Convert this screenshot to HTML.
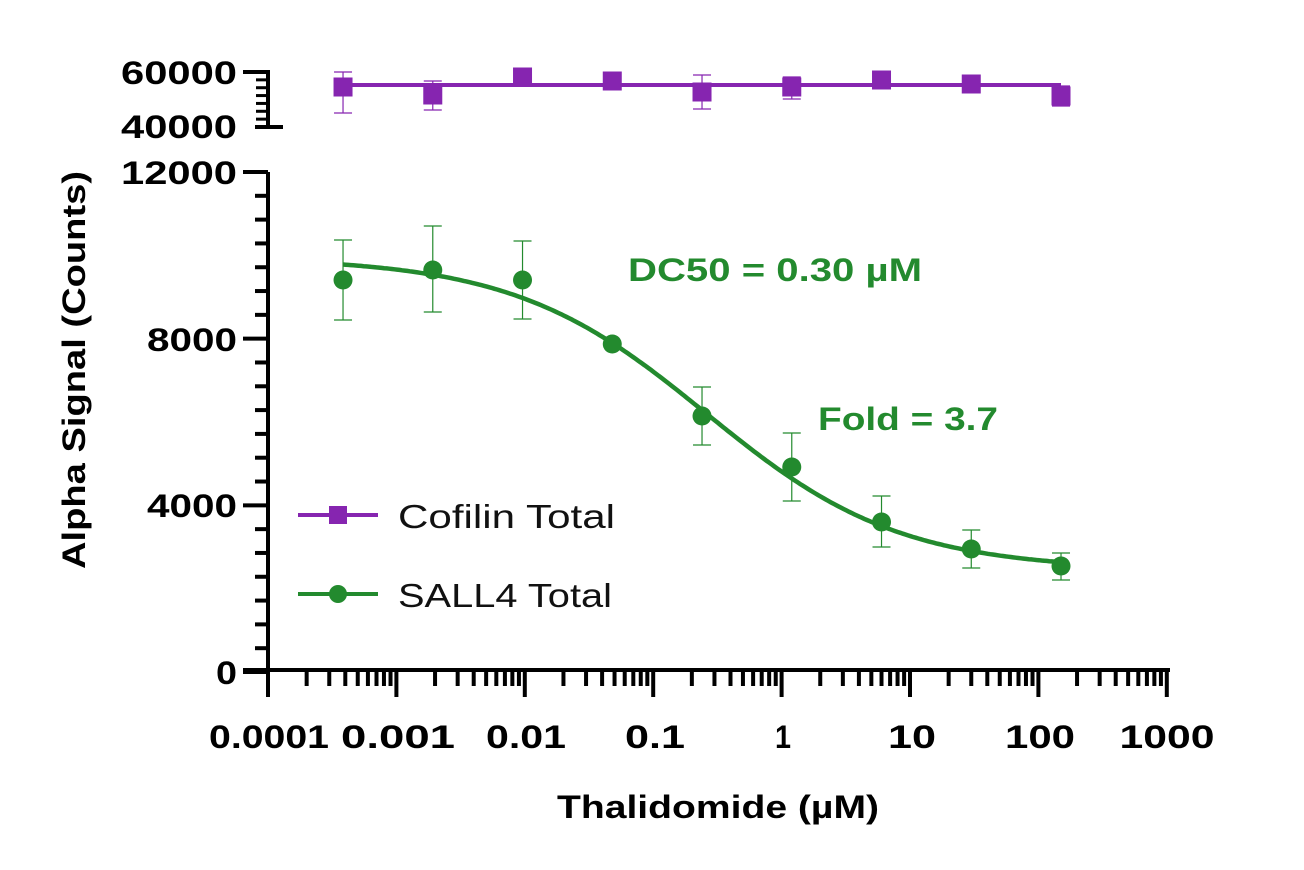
<!DOCTYPE html>
<html><head><meta charset="utf-8"><style>
body{margin:0;background:#fff}
svg{display:block}
text{font-family:"Liberation Sans",sans-serif}
</style></head><body>
<svg id="s" width="1304" height="870" xmlns="http://www.w3.org/2000/svg">
<g font-weight="bold" font-size="32" fill="#000" text-anchor="end">
<text x="237" y="84" textLength="116" lengthAdjust="spacingAndGlyphs">60000</text>
<text x="237" y="138" textLength="116" lengthAdjust="spacingAndGlyphs">40000</text>
<text x="237" y="184" textLength="116" lengthAdjust="spacingAndGlyphs">12000</text>
<text x="237" y="351" textLength="90" lengthAdjust="spacingAndGlyphs">8000</text>
<text x="237" y="517" textLength="90" lengthAdjust="spacingAndGlyphs">4000</text>
<text x="237" y="684" textLength="21" lengthAdjust="spacingAndGlyphs">0</text>
</g>
<g font-weight="bold" font-size="32" fill="#000" text-anchor="middle">
<text x="269" y="748" textLength="120" lengthAdjust="spacingAndGlyphs">0.0001</text>
<text x="398" y="748" textLength="114" lengthAdjust="spacingAndGlyphs">0.001</text>
<text x="526" y="748" textLength="80" lengthAdjust="spacingAndGlyphs">0.01</text>
<text x="655" y="748" textLength="60" lengthAdjust="spacingAndGlyphs">0.1</text>
<text x="783" y="748" textLength="16" lengthAdjust="spacingAndGlyphs">1</text>
<text x="912" y="748" textLength="48" lengthAdjust="spacingAndGlyphs">10</text>
<text x="1040" y="748" textLength="70" lengthAdjust="spacingAndGlyphs">100</text>
<text x="1167" y="748" textLength="95" lengthAdjust="spacingAndGlyphs">1000</text>
<text x="718" y="818" textLength="322" lengthAdjust="spacingAndGlyphs">Thalidomide (µM)</text>
<text transform="translate(85,370) rotate(-90)" textLength="398" lengthAdjust="spacingAndGlyphs">Alpha Signal (Counts)</text>
</g>
<g font-weight="bold" font-size="32" fill="#238a2e">
<text x="628" y="281" textLength="294" lengthAdjust="spacingAndGlyphs">DC50 = 0.30 µM</text>
<text x="818" y="430" textLength="180" lengthAdjust="spacingAndGlyphs">Fold = 3.7</text>
</g>
<g font-size="33" fill="#111">
<text x="398" y="528" textLength="217" lengthAdjust="spacingAndGlyphs">Cofilin Total</text>
<text x="398" y="607" textLength="214" lengthAdjust="spacingAndGlyphs">SALL4 Total</text>
</g>
<line x1="298" y1="515" x2="378" y2="515" stroke="#8625b0" stroke-width="4"/>
<rect x="329" y="506" width="18" height="18" fill="#8625b0"/>
<line x1="298" y1="594" x2="378" y2="594" stroke="#238a2e" stroke-width="4"/>
<circle cx="338" cy="594" r="9" fill="#238a2e"/>
<g id="ax" stroke="#000" fill="none"></g>
<g id="dat"></g>
</svg>
<script>
var ns="http://www.w3.org/2000/svg";
function el(p,t,a){var e=document.createElementNS(ns,t);for(var k in a)e.setAttribute(k,a[k]);p.appendChild(e);return e;}
var ax=document.getElementById('ax'),dat=document.getElementById('dat');
el(ax,'line',{x1:243,y1:670,x2:1170,y2:670,'stroke-width':4});
el(ax,'line',{x1:268,y1:172,x2:268,y2:672,'stroke-width':4});
el(ax,'line',{x1:268,y1:72,x2:268,y2:129,'stroke-width':4});
el(ax,'line',{x1:243,y1:72,x2:270,y2:72,'stroke-width':4});
el(ax,'line',{x1:255,y1:127,x2:283,y2:127,'stroke-width':4});
for(var i=1;i<7;i++){var y=72+i*55/7;el(ax,'line',{x1:256,y1:y,x2:268,y2:y,'stroke-width':3});}
for(var i=0;i<=21;i++){var y=172+i*500/21;el(ax,'line',{x1:(i%7==0)?243:255,y1:y,x2:268,y2:y,'stroke-width':4});}
var X0=268,D=128.4;
for(var d=0;d<7;d++){for(var m=1;m<=10;m++){var x=X0+(d+Math.log10(m))*D;if(m==1&&d>0)continue;el(ax,'line',{x1:x,y1:670,x2:x,y2:(m==1||m==10)?697:686,'stroke-width':4});}}
function px(c){return X0+(Math.log10(c)+4)*D;}
var conc=[];for(var k=8;k>=0;k--)conc.push(150/Math.pow(5,k));
var pts=[];for(var lx=Math.log10(conc[0]);lx<=Math.log10(150)+0.001;lx+=0.02){var c=Math.pow(10,lx);var v=2450+7500/(1+Math.pow(c/0.26,0.577));pts.push(px(c).toFixed(1)+','+(672-v/24).toFixed(1));}
el(dat,'polyline',{points:pts.join(' '),fill:'none',stroke:'#238a2e','stroke-width':4.5});
var gy=[280,270,280,344,416,467,522,549,566];
var ge=[[240,320],[226,312],[241,319],[344,344],[387,445],[433,501],[496,547],[530,568],[553,580]];
for(var i=0;i<9;i++){var x=px(conc[i]);
 if(ge[i][0]!=ge[i][1]){el(dat,'line',{x1:x,y1:ge[i][0],x2:x,y2:ge[i][1],stroke:'#238a2e','stroke-width':1.2});
 el(dat,'line',{x1:x-9,y1:ge[i][0],x2:x+9,y2:ge[i][0],stroke:'#238a2e','stroke-width':1.2});
 el(dat,'line',{x1:x-9,y1:ge[i][1],x2:x+9,y2:ge[i][1],stroke:'#238a2e','stroke-width':1.2});}
 el(dat,'circle',{cx:x,cy:gy[i],r:9.5,fill:'#238a2e'});}
el(dat,'line',{x1:px(conc[0]),y1:85,x2:px(150),y2:85,stroke:'#8625b0','stroke-width':4});
var py=[87,95,77,81,92,87,80,84,96];
var pe=[[72,113],[81,110],[77,77],[81,81],[75,109],[77,99],[80,80],[84,84],[86,106]];
for(var i=0;i<9;i++){var x=px(conc[i]);
 if(pe[i][0]!=pe[i][1]){el(dat,'line',{x1:x,y1:pe[i][0],x2:x,y2:pe[i][1],stroke:'#8625b0','stroke-width':1.2});
 el(dat,'line',{x1:x-9,y1:pe[i][0],x2:x+9,y2:pe[i][0],stroke:'#8625b0','stroke-width':1.2});
 el(dat,'line',{x1:x-9,y1:pe[i][1],x2:x+9,y2:pe[i][1],stroke:'#8625b0','stroke-width':1.2});}
 el(dat,'rect',{x:x-9.5,y:py[i]-9.5,width:19,height:19,fill:'#8625b0'});}
</script>
</body></html>
